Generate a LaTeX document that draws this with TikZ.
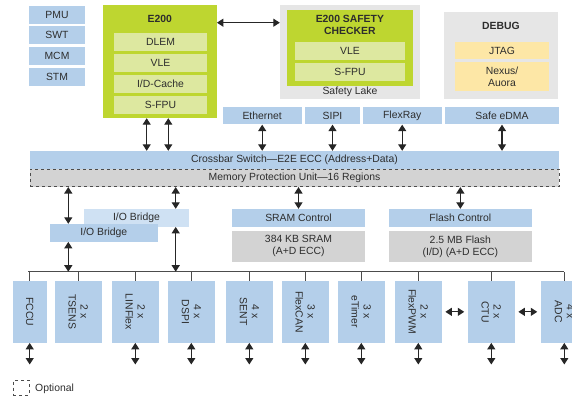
\documentclass[tikz,border=0pt]{standalone}
\usepackage{fontspec}
\setmainfont{Liberation Sans}
\usetikzlibrary{arrows.meta, positioning}

\definecolor{xblue}{RGB}{180,207,234}
\definecolor{xltblue}{RGB}{207,225,243}
\definecolor{xgreen}{RGB}{190,214,48}
\definecolor{xpale}{RGB}{221,232,160}
\definecolor{xlake}{RGB}{230,230,230}
\definecolor{xgrey}{RGB}{211,211,211}
\definecolor{xyellow}{RGB}{253,231,166}
\definecolor{xtext}{RGB}{45,45,45}

\begin{document}
\begin{tikzpicture}[x=1pt, y=-1pt, >={Triangle[length=6.5pt,width=8pt]},
  every node/.style={font=\fontsize{10.4}{12}\selectfont, text=xtext, inner sep=0pt, align=center},
  blk/.style={fill=xblue},
  grn/.style={fill=xgreen},
  pale/.style={fill=xpale, minimum width=93, minimum height=17.7},
  hd/.style={font=\fontsize{10.4}{12}\selectfont\bfseries},
  dar/.style={<->, line width=1.2pt, draw=black!85},
  bus/.style={line width=0.8pt, draw=black!70}]

\useasboundingbox (0,0) rectangle (572,396);
\clip (0,0) rectangle (572,396);

% System blocks (left)
\node[blk, minimum width=56, minimum height=17.7] (pmu) at (57,14.9) {PMU};
\node[blk, minimum width=56, minimum height=17.7] (swt) at (57,34.9) {SWT};
\node[blk, minimum width=56, minimum height=17.7] (mcm) at (57,55.9) {MCM};
\node[blk, minimum width=56, minimum height=17.7] (stm) at (57,76.9) {STM};

% Main core (E200)
\node[grn, minimum width=113.7, minimum height=113] (e200) at (159.85,61.5) {};
\node[hd] (e200t) at (159.85,19) {E200};
\node[pale] (dlem) at (160.5,41.85) {DLEM};
\node[pale] (vle) at (160.5,62.85) {VLE};
\node[pale] (cache) at (160.5,83.85) {I/D-Cache};
\node[pale] (sfpu) at (160.5,104.85) {S-FPU};

% Safety lake
\node[fill=xlake, minimum width=140, minimum height=94] (lake) at (350,52) {};
\node[grn, minimum width=125.7, minimum height=76] (chk) at (349.85,48) {};
\node[hd] (chkt) at (349.85,25) {E200 SAFETY\\CHECKER};
\node[pale, minimum width=110] (vle2) at (350,51) {VLE};
\node[pale, minimum width=110] (sfpu2) at (350,71.65) {S-FPU};
\node (laket) at (350,91.5) {Safety Lake};

% Debug
\node[fill=xlake, minimum width=113.7, minimum height=87] (dbg) at (500.85,55.8) {};
\node[hd] (dbgt) at (501,26) {DEBUG};
\node[fill=xyellow, minimum width=94, minimum height=17.6] (jtag) at (502,50.5) {JTAG};
\node[fill=xyellow, minimum width=94, minimum height=29] (nexus) at (502,76.5) {Nexus/\\Auora};

\coordinate (lk) at (0,22.7);
\draw[dar] (lk -| e200.east) -- (lk -| lake.west);

% Masters
\node[blk, minimum width=79, minimum height=17.5] (eth) at (262.2,115.7) {Ethernet};
\node[blk, minimum width=55, minimum height=17.5] (sipi) at (332.5,115.7) {SIPI};
\node[blk, minimum width=79, minimum height=17.5] (flexray) at (402.2,115.7) {FlexRay};
\node[blk, minimum width=114, minimum height=17.5] (edma) at (502,115.7) {Safe eDMA};

% Crossbar and MPU
\node[blk, minimum width=529, minimum height=18] (xbar) at (294.5,160) {Crossbar Switch---E2E ECC (Address+Data)};
\node[fill=xgrey, draw=black!70, dashed, line width=0.6pt, minimum width=529, minimum height=17.7] (mpu) at (294.5,177.9) {Memory Protection Unit---16 Regions};

\coordinate (c1) at (146.7,0);
\coordinate (c2) at (168.3,0);
\draw[dar] (c1 |- e200.south) -- (c1 |- xbar.north);
\draw[dar] (c2 |- e200.south) -- (c2 |- xbar.north);
\draw[dar] (eth.south) -- (eth.south |- xbar.north);
\draw[dar] (sipi.south) -- (sipi.south |- xbar.north);
\draw[dar] (flexray.south) -- (flexray.south |- xbar.north);
\draw[dar] (edma.south) -- (edma.south |- xbar.north);

% Bridges and memories
\node[fill=xltblue, minimum width=104.4, minimum height=17.7] (iob2) at (136.5,217.85) {I/O Bridge};
\node[blk, minimum width=107.7, minimum height=17.7] (iob1) at (103.85,232.85) {I/O Bridge};
\node[blk, minimum width=132.4, minimum height=17.7] (sramc) at (298.5,217.85) {SRAM Control};
\node[fill=xgrey, minimum width=132.4, minimum height=30.7] (sram) at (298.5,246.35) {384 KB SRAM\\(A+D ECC)};
\node[blk, minimum width=142.7, minimum height=17.7] (flashc) at (460.35,217.85) {Flash Control};
\node[fill=xgrey, minimum width=142.7, minimum height=30.7] (flash) at (460.35,246.35) {2.5 MB Flash\\(I/D) (A+D ECC)};

\coordinate (c3) at (68.3,0);
\coordinate (c4) at (175.7,0);
\draw[dar] (c3 |- mpu.south) -- (c3 |- iob1.north);
\draw[dar] (c4 |- mpu.south) -- (c4 |- iob2.north);
\draw[dar] (sramc.north |- mpu.south) -- (sramc.north);
\draw[dar] (flashc.north |- mpu.south) -- (flashc.north);

% Peripheral bus
\coordinate (busl) at (28,271.7);
\coordinate (busr) at (564.3,271.7);
\coordinate (pins) at (0,364.5);
\draw[bus] (busl) -- (busr);
\draw[dar] (c3 |- iob1.south) -- (c3 |- busl);
\draw[dar] (c4 |- iob2.south) -- (c4 |- busl);

\foreach \n/\x/\w/\t/\p in {fccu/29.7/34/FCCU/1, tsens/78.3/46.7/{2 x\\TSENS}/0,
  linflex/135.3/46.7/{2 x\\LINFlex}/1, dspi/191.3/46.7/{4 x\\DSPI}/1,
  sent/249.3/46.7/{4 x\\SENT}/1, flexcan/305.3/46.7/{3 x\\FlexCAN}/1,
  etimer/361.3/46.7/{3 x\\eTimer}/1, flexpwm/418.3/46.7/{2 x\\FlexPWM}/1,
  ctu/491.3/46.7/{2 x\\CTU}/1, adc/564.3/46.7/{4 x\\ADC}/1}{
  \node[blk, minimum width=\w, minimum height=61.7] (\n) at (\x,311.85) {};
  \node[rotate=-90] (\n-t) at (\n) {\t};
  \draw[bus] (\n.north) -- (\n.north |- busl);
  \ifnum\p=1 \draw[dar] (\n.south) -- (\n.south |- pins); \fi
}

\draw[dar, shorten <=3.5pt, shorten >=3.5pt] (flexpwm.east) -- (ctu.west);
\draw[dar, shorten <=3.5pt, shorten >=3.5pt] (ctu.east) -- (adc.west);

% Legend
\node[draw=black!70, dashed, line width=0.6pt, minimum width=16, minimum height=14.7] (opt) at (21.3,387.6) {};
\node[anchor=west] (optt) at (35,388.7) {Optional};

\end{tikzpicture}
\end{document}
